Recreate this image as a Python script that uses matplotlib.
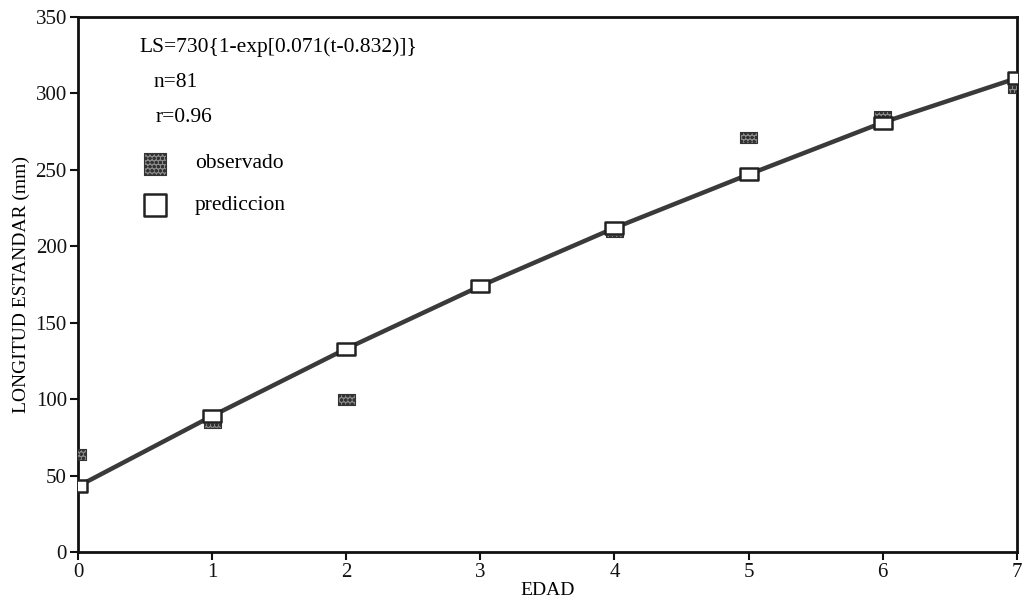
import matplotlib.pyplot as plt
from matplotlib.path import Path
import numpy as np

plt.rcParams['font.family'] = ['Liberation Serif', 'DejaVu Serif']

# data
edad = [0, 1, 2, 3, 4, 5, 6, 7]
observado = [64, 85, 100, 174, 210, 271, 285, 304]
prediccion = [43, 89, 133, 174, 212, 247, 281, 310]

# wide rectangle marker, like the scanned symbols
RECT = Path([(-1, -0.65), (1, -0.65), (1, 0.65), (-1, 0.65), (-1, -0.65)],
            [Path.MOVETO, Path.LINETO, Path.LINETO, Path.LINETO, Path.CLOSEPOLY])

fig = plt.figure(figsize=(10.26, 6.08), dpi=100)
ax = fig.add_axes([0.076, 0.092, 0.915, 0.880])

ax.plot(edad, prediccion, color='#3a3a3a', lw=3.2, zorder=2, solid_capstyle='butt')
ax.scatter(edad, observado, marker=RECT, s=150, facecolor='#8a8a8a', edgecolor='#333333',
           hatch='oooo', linewidth=0.8, zorder=3)
ax.scatter(edad, prediccion, marker=RECT, s=170, facecolor='white', edgecolor='#222222',
           linewidth=1.8, zorder=4)

ax.set_xlim(0, 7)
ax.set_ylim(0, 350)
ax.set_xticks(range(8))
ax.set_yticks(range(0, 351, 50))
ax.tick_params(direction='out', length=6, width=1.5, labelsize=15, pad=2, colors='#111111')
for s in ax.spines.values():
    s.set_linewidth(2)
    s.set_color('#111111')
ax.set_xlabel('EDAD', fontsize=14, labelpad=0)
ax.set_ylabel('LONGITUD ESTANDAR (mm)', fontsize=14, labelpad=4)

# annotations and hand-made legend
ax.text(0.46, 330, 'LS=730{1-exp[0.071(t-0.832)]}', fontsize=15.5, va='center')
ax.text(0.56, 307, 'n=81', fontsize=15.5, va='center')
ax.text(0.58, 284, 'r=0.96', fontsize=15.5, va='center')
ax.scatter([0.575], [254], marker='s', s=260, facecolor='#8a8a8a', edgecolor='#333333',
           hatch='oooo', linewidth=0.8, clip_on=False)
ax.scatter([0.575], [227], marker='s', s=260, facecolor='white', edgecolor='#222222',
           linewidth=1.8, clip_on=False)
ax.text(0.87, 254, 'observado', fontsize=15.5, va='center')
ax.text(0.87, 227, 'prediccion', fontsize=15.5, va='center')

fig.savefig('out.png', dpi=100)
